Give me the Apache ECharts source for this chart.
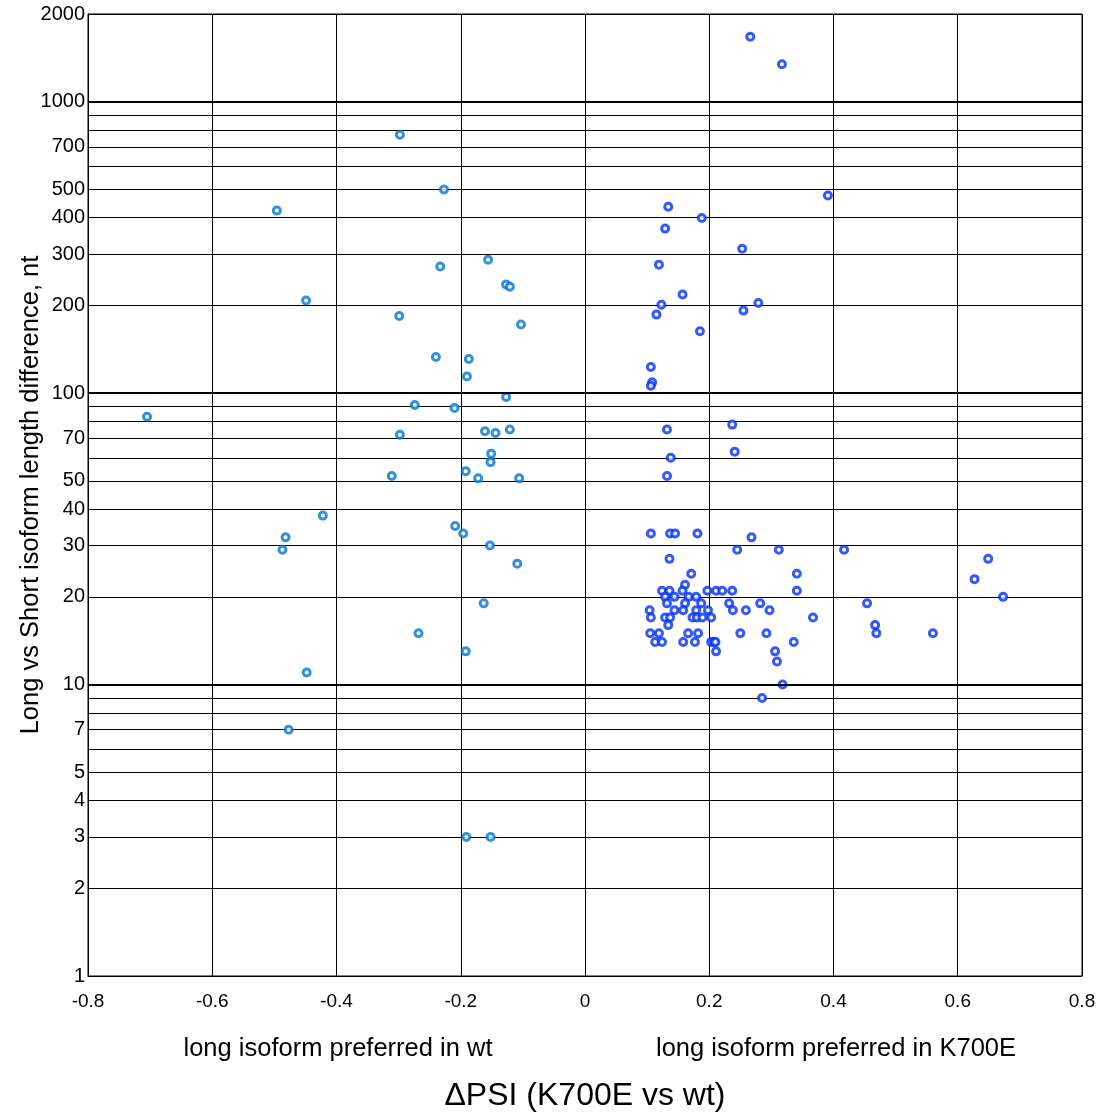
<!DOCTYPE html>
<html>
<head>
<meta charset="utf-8">
<script src="https://cdn.jsdelivr.net/npm/echarts@6/dist/echarts.min.js"></script>
<style>html,body{margin:0;padding:0;background:#fff;}#c{width:1116px;height:1117px;}</style>
</head>
<body>
<div id="c"></div>
<script>
// long isoform preferred in wt (negative dPSI)
const wtX = [-0.705,-0.298,-0.227,-0.496,-0.233,-0.156,-0.449,-0.299,-0.127,-0.121,-0.103,-0.240,-0.187,-0.190,-0.127,
  -0.274,-0.210,-0.298,-0.161,-0.144,-0.121,-0.151,-0.152,-0.311,-0.192,-0.172,-0.106,-0.422,-0.209,-0.196,-0.482,
  -0.487,-0.153,-0.109,-0.163,-0.268,-0.192,-0.448,-0.477,-0.191,-0.152];
const wtY = [83,770,500,423,272,287,208,184,236,232,172,133,131,114,97,
  91,89,72,74,73,75,62,58,52,54,51,51,38,35,33,32,
  29,30,26,19,15,13,11,7,3,3];
// long isoform preferred in K700E (positive dPSI)
const mutX = [0.266,0.317,0.391,0.134,0.188,0.129,0.253,0.119,0.157,0.123,0.279,0.115,0.255,0.185,0.106,0.108,0.106,
  0.132,0.237,0.241,0.138,0.132,
  0.106,0.137,0.145,0.181,0.268,
  0.245,0.312,0.417,
  0.136,0.649,
  0.171,0.341,
  0.627,
  0.161,
  0.124,0.136,0.157,0.197,0.211,0.221,0.237,0.341,
  0.129,0.144,0.167,0.179,0.673,
  0.132,0.161,0.187,0.232,0.282,0.454,
  0.104,0.144,0.158,0.179,0.198,0.238,0.259,0.297,
  0.106,0.129,0.137,0.173,0.180,0.189,0.203,0.367,
  0.134,0.467,
  0.105,0.119,0.166,0.182,0.250,0.292,0.469,0.560,
  0.113,0.124,0.158,0.177,0.203,0.208,0.210,0.336,
  0.211,0.306,
  0.309,
  0.318,
  0.285];
const mutY = [1670,1345,477,436,399,367,313,276,218,201,204,186,192,163,123,109,106,
  75,78,63,60,52,
  33,33,33,33,32,
  29,29,29,
  27,27,
  24,24,
  23,
  22,
  21,21,21,21,21,21,21,21,
  20,20,20,20,20,
  19,19,19,19,19,19,
  18,18,18,18,18,18,18,18,
  17,17,17,17,17,17,17,17,
  16,16,
  15,15,15,15,15,15,15,15,
  14,14,14,14,14,14,14,14,
  13,13,
  12,
  10,
  9];

const yGridValues = [1,2,3,4,5,6,7,8,9,10,20,30,40,50,60,70,80,90,100,200,300,400,500,600,700,800,900,1000,2000];
const yLabelValues = [1,2,3,4,5,7,10,20,30,40,50,70,100,200,300,400,500,700,1000,2000];
const decadeLines = [10,100,1000];
const xTickLabels = ['-0.8','-0.6','-0.4','-0.2','0','0.2','0.4','0.6','0.8'];

const FONT = '"Liberation Sans", Arial, sans-serif';
const zip = (xs, ys) => xs.map((x, i) => [x, ys[i]]);

const chart = echarts.init(document.getElementById('c'), null, {renderer: 'canvas'});
chart.setOption({
  animation: false,
  backgroundColor: '#fff',
  title: [
    {text: 'long isoform preferred in wt', left: 333, top: 1031, textAlign: 'center',
     textStyle: {fontFamily: FONT, fontSize: 25.5, fontWeight: 'normal', color: '#000'}},
    {text: 'long isoform preferred in K700E', left: 831, top: 1031, textAlign: 'center',
     textStyle: {fontFamily: FONT, fontSize: 25.5, fontWeight: 'normal', color: '#000'}}
  ],
  grid: {left: 88, right: 34, top: 14, bottom: 141, show: true, borderColor: '#000', borderWidth: 1,
    backgroundColor: 'transparent', containLabel: false, outerBoundsMode: 'none'},
  xAxis: {
    type: 'value', min: -0.8, max: 0.8, interval: 0.2,
    name: 'ΔPSI (K700E vs wt)', nameLocation: 'middle', nameGap: 104, nameMoveOverlap: false,
    nameTextStyle: {fontFamily: FONT, fontSize: 32, color: '#000'},
    axisLine: {onZero: false, lineStyle: {color: '#000', width: 1}},
    axisTick: {show: false},
    axisLabel: {fontFamily: FONT, fontSize: 19, color: '#000', margin: 16,
      formatter: (v) => xTickLabels[Math.round((v + 0.8) / 0.2)]},
    splitLine: {show: true, lineStyle: {color: '#000', width: 1}}
  },
  yAxis: {
    type: 'log', logBase: 10, min: 1, max: 2000,
    name: 'Long vs Short isoform length difference, nt', nameLocation: 'middle', nameGap: 44, nameMoveOverlap: false,
    nameTextStyle: {fontFamily: FONT, fontSize: 25.5, color: '#000'},
    axisLine: {onZero: false, lineStyle: {color: '#000', width: 1}},
    axisTick: {show: false, customValues: yGridValues},
    axisLabel: {fontFamily: FONT, fontSize: 20, color: '#000', margin: 3, customValues: yLabelValues,
      formatter: (v) => String(Math.round(v))},
    splitLine: {show: true, lineStyle: {color: '#000', width: 1}}
  },
  series: [
    {
      name: 'wt', type: 'scatter', data: zip(wtX, wtY),
      symbol: 'circle', symbolSize: 7,
      itemStyle: {color: '#ffffff', borderColor: '#0074d4', borderWidth: 3},
      markLine: {silent: true, symbol: 'none', label: {show: false},
        lineStyle: {color: '#000', width: 2, type: 'solid'},
        data: decadeLines.map(v => ({yAxis: v}))},
      z: 3
    },
    {
      name: 'K700E', type: 'scatter', data: zip(mutX, mutY),
      symbol: 'circle', symbolSize: 7,
      itemStyle: {color: '#ffffff', borderColor: '#0030ff', borderWidth: 3},
      z: 4
    }
  ]
});
</script>
</body>
</html>
